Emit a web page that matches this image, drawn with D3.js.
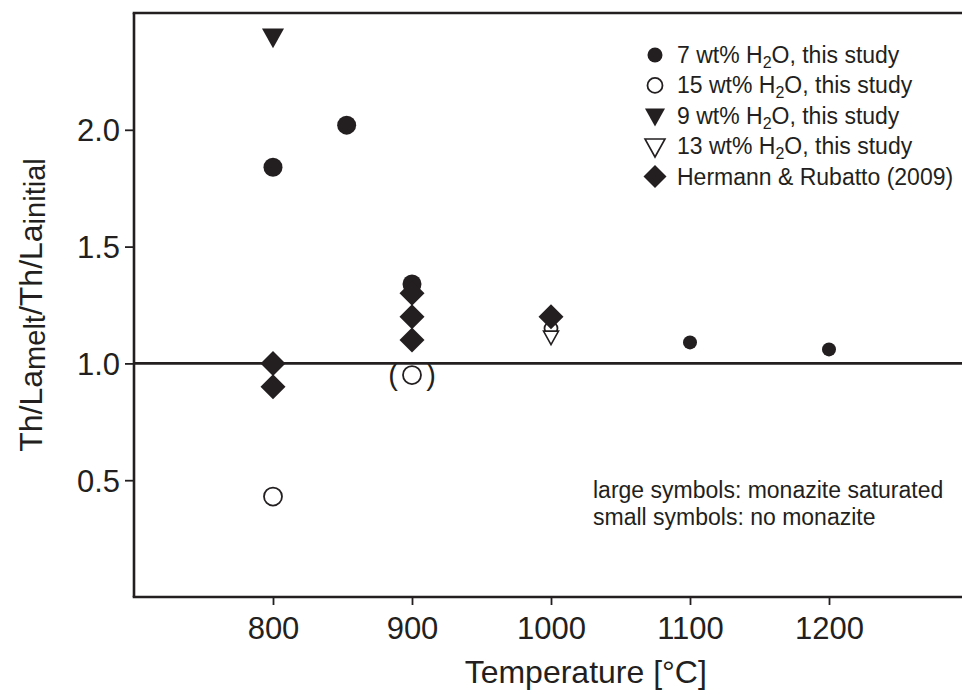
<!DOCTYPE html>
<html>
<head>
<meta charset="utf-8">
<script src="https://cdn.jsdelivr.net/npm/d3@7"></script>
<style>
  body { margin: 0; background: #fff; }
  svg { display: block; font-family: "Liberation Sans", Arial, Helvetica, sans-serif; }
</style>
</head>
<body>
<svg id="chart" width="962" height="694"></svg>
<script>
// Th/La partitioning vs. temperature
const xTicks = [800, 900, 1000, 1100, 1200];
const yTicks = [0.5, 1.0, 1.5, 2.0];

// 7 wt% H2O, filled circles
const h2o7Large = [[800, 1.84], [853, 2.02], [900, 1.34]];
const h2o7Small = [[1100, 1.09], [1200, 1.06]];
// 15 wt% H2O, open circles (900 °C point is in brackets)
const h2o15Large = [[800, 0.43], [900, 0.95]];
const h2o15Small = [[1000, 1.15]];
const h2o15Bracketed = [[900, 0.95]];
// 9 wt% H2O, filled triangle
const h2o9Large = [[800, 2.40]];
// 13 wt% H2O, open triangle
const h2o13Small = [[1000, 1.115]];
// Hermann & Rubatto (2009), diamonds
const hermann = [[800, 1.0], [800, 0.9], [900, 1.3], [900, 1.2], [900, 1.1], [1000, 1.2]];

const legendLabels = [
    { sym: 'circleFilled', text: ['7 wt% H', '2', 'O, this study'] },
    { sym: 'circleOpen', text: ['15 wt% H', '2', 'O, this study'] },
    { sym: 'triFilled', text: ['9 wt% H', '2', 'O, this study'] },
    { sym: 'triOpen', text: ['13 wt% H', '2', 'O, this study'] },
    { sym: 'diamond', text: ['Hermann & Rubatto (2009)', '', ''] }
];
const noteLines = ['large symbols: monazite saturated', 'small symbols: no monazite'];

const W = 962, H = 694;
const ink = '#231f20';
const margin = { left: 134, top: 13, bottom: 597 };

const svg = d3.select('#chart');

const x = d3.scaleLinear().domain([700, 1350]).range([margin.left, 1037.5]);
const y = d3.scaleLinear().domain([0, 2.5]).range([margin.bottom, margin.top]);

// symbol path helpers (centred at 0,0)
const tri = (w, h, down) => {
    const s = down ? 1 : -1;
    return `M${-w / 2},${-s * h * 0.4}L${w / 2},${-s * h * 0.4}L0,${s * h * 0.6}Z`;
};
const diamond = r => `M0,${-r}L${r},0L0,${r}L${-r},0Z`;

function drawSymbol (g, sym, size) {
    if (sym === 'circleFilled') {
        g.append('circle').attr('r', size).attr('fill', ink);
    } else if (sym === 'circleOpen') {
        g.append('circle').attr('r', size).attr('fill', '#fff').attr('stroke', ink).attr('stroke-width', 1.8);
    } else if (sym === 'triFilled') {
        g.append('path').attr('d', tri(size * 2, size * 1.8, true)).attr('fill', ink);
    } else if (sym === 'triOpen') {
        g.append('path').attr('d', tri(size * 2, size * 1.8, true)).attr('fill', '#fff').attr('stroke', ink).attr('stroke-width', 1.6);
    } else if (sym === 'diamond') {
        g.append('path').attr('d', diamond(size)).attr('fill', ink);
    }
}

function plotSeries (data, sym, size) {
    data.forEach(d => {
        const g = svg.append('g').attr('transform', `translate(${x(d[0])},${y(d[1])})`);
        drawSymbol(g, sym, size);
    });
}

// frame: left, bottom, top (right side falls outside the picture)
const frame = svg.append('g').attr('stroke', ink).attr('stroke-width', 2.6).attr('fill', 'none');
frame.append('line').attr('x1', margin.left).attr('x2', margin.left).attr('y1', margin.top).attr('y2', margin.bottom);
frame.append('line').attr('x1', margin.left - 1.3).attr('x2', W).attr('y1', margin.bottom).attr('y2', margin.bottom);
frame.append('line').attr('x1', margin.left - 1.3).attr('x2', W).attr('y1', margin.top).attr('y2', margin.top);

// reference line at 1.0
svg.append('line')
    .attr('x1', margin.left).attr('x2', W)
    .attr('y1', y(1)).attr('y2', y(1))
    .attr('stroke', ink).attr('stroke-width', 2.6);

// axes
const xAxis = svg.append('g')
    .attr('transform', `translate(0,${margin.bottom})`)
    .call(d3.axisBottom(x).tickValues(xTicks).tickFormat(d3.format('d')).tickSize(8).tickPadding(12));
const yAxis = svg.append('g')
    .attr('transform', `translate(${margin.left},0)`)
    .call(d3.axisLeft(y).tickValues(yTicks).tickFormat(d3.format('.1f')).tickSize(9).tickPadding(5));
[xAxis, yAxis].forEach(a => {
    a.select('.domain').remove();
    a.selectAll('line').attr('stroke', ink).attr('stroke-width', 1.8);
    a.selectAll('text').attr('fill', ink).attr('font-size', 31).attr('font-family', '"Liberation Sans", Arial, sans-serif');
});
yAxis.selectAll('text').attr('dy', '0.36em');

// axis titles
svg.append('text')
    .attr('x', (x.range()[0] + x.range()[1]) / 2)
    .attr('y', 683)
    .attr('text-anchor', 'middle')
    .attr('font-size', 32)
    .attr('fill', ink)
    .text('Temperature [°C]');

const yTitle = svg.append('text')
    .attr('transform', `translate(42,${(margin.top + margin.bottom) / 2}) rotate(-90)`)
    .attr('text-anchor', 'middle')
    .attr('font-size', 32)
    .attr('fill', ink);
yTitle.append('tspan').text('Th/La');
yTitle.append('tspan').attr('font-size', 29).attr('dy', 3).text('melt');
yTitle.append('tspan').attr('dy', -3).text('/Th/La');
yTitle.append('tspan').attr('font-size', 29).attr('dy', 3).text('initial');

// data: open symbols first, diamonds over them
plotSeries(h2o15Large, 'circleOpen', 9);
plotSeries(h2o15Small, 'circleOpen', 6.5);
plotSeries(h2o13Small, 'triOpen', 7.5);
plotSeries(h2o7Large, 'circleFilled', 9.5);
plotSeries(h2o7Small, 'circleFilled', 7);
plotSeries(h2o9Large, 'triFilled', 11);
plotSeries(hermann, 'diamond', 12.5);

// brackets round the doubtful 15 wt% point
h2o15Bracketed.forEach(d => {
    [['(', -19], [')', 19]].forEach(([ch, dx]) => {
        svg.append('text')
            .attr('x', x(d[0]) + dx)
            .attr('y', y(d[1]) + 10)
            .attr('text-anchor', 'middle')
            .attr('font-size', 29)
            .attr('fill', ink)
            .text(ch);
    });
});

// legend
const legend = svg.append('g').attr('transform', 'translate(655,55)');
legendLabels.forEach((item, i) => {
    const row = legend.append('g').attr('transform', `translate(0,${i * 30.4})`);
    const sizes = { circleFilled: 7.5, circleOpen: 7.5, triFilled: 10, triOpen: 10, diamond: 11.5 };
    drawSymbol(row, item.sym, sizes[item.sym]);
    const t = row.append('text')
        .attr('x', 22)
        .attr('y', 8)
        .attr('font-size', 23)
        .attr('fill', ink);
    t.append('tspan').text(item.text[0]);
    if (item.text[1]) {
        t.append('tspan').attr('font-size', 16).attr('dy', 5).text(item.text[1]);
        t.append('tspan').attr('dy', -5).text(item.text[2]);
    }
});

// note
svg.append('text')
    .attr('x', 593)
    .attr('y', 498)
    .attr('font-size', 23)
    .attr('fill', ink)
    .selectAll('tspan')
    .data(noteLines)
    .enter()
    .append('tspan')
    .attr('x', 593)
    .attr('dy', (d, i) => i === 0 ? 0 : 27)
    .text(d => d);
</script>
</body>
</html>
